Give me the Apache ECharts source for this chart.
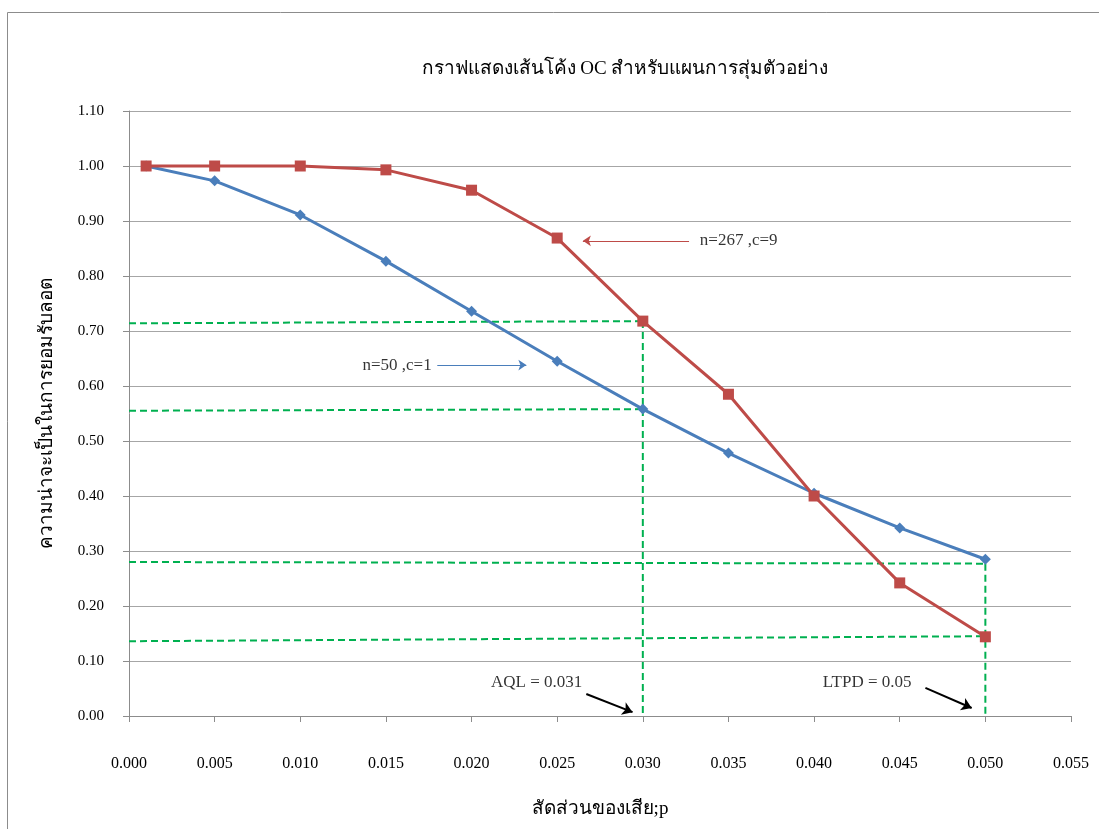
<!DOCTYPE html>
<html><head><meta charset="utf-8">
<script src="https://cdn.jsdelivr.net/npm/echarts@6/dist/echarts.min.js"></script>
<style>html,body{margin:0;padding:0;background:#fff}#c{width:1099px;height:829px}</style>
</head><body><div id="c"></div>
<script>
const pValues = [0.001,0.005,0.010,0.015,0.020,0.025,0.030,0.035,0.040,0.045,0.050];
const planA = [1.000,0.973,0.911,0.827,0.736,0.645,0.558,0.478,0.405,0.342,0.285]; // n=50, c=1
const planB = [1.000,1.000,1.000,0.993,0.956,0.869,0.718,0.585,0.400,0.242,0.144]; // n=267, c=9
const guideLines = [
  [[0,0.714],[0.030,0.718]],
  [[0,0.555],[0.030,0.558]],
  [[0.030,0.718],[0.030,0]],
  [[0,0.280],[0.050,0.277]],
  [[0,0.136],[0.050,0.145]],
  [[0.050,0.277],[0.050,0]]
];
const arrowsRed = [[[0.0327,0.864],[0.0265,0.864]]];
const arrowsBlue = [[[0.0180,0.638],[0.0232,0.638]]];
const arrowsBlack = [[[0.0267,0.040],[0.0294,0.007]],[[0.0465,0.051],[0.0492,0.0145]]];
const labelsText = [
  {text:'n=267 ,c=9', x:0.0333, y:0.864, pos:'right'},
  {text:'n=50 ,c=1', x:0.0177, y:0.638, pos:'left'},
  {text:'AQL = 0.031', x:0.0238, y:0.061, pos:'inside'},
  {text:'LTPD = 0.05', x:0.0431, y:0.061, pos:'inside'}
];
const titleText = 'กราฟแสดงเส้นโค้ง OC สำหรับแผนการสุ่มตัวอย่าง';
const xName = 'สัดส่วนของเสีย;p';
const yName = 'ความน่าจะเป็นในการยอมรับลอต';

const FONT = "'Liberation Serif','Times New Roman',serif";
const chart = echarts.init(document.getElementById('c'));
const series = [];
guideLines.forEach(g => series.push({
  type:'line', data:g, symbol:'none', silent:true, z:1,
  lineStyle:{color:'#00b050', width:2, type:[7,4]}
}));
series.push({
  name:'n=50,c=1', type:'line', data:pValues.map((p,i)=>[p,planA[i]]),
  symbol:'diamond', symbolSize:11, z:3,
  lineStyle:{color:'#4a7ebb', width:3}, itemStyle:{color:'#4a7ebb'}
});
series.push({
  name:'n=267,c=9', type:'line', data:pValues.map((p,i)=>[p,planB[i]]),
  symbol:'rect', symbolSize:11, z:4,
  lineStyle:{color:'#be4b48', width:3}, itemStyle:{color:'#be4b48'}
});
function arrowSeries(list,color,width,size){
  return {type:'lines', coordinateSystem:'cartesian2d', silent:true, z:5,
    symbol:['none','arrow'], symbolSize:size,
    lineStyle:{color:color,width:width,opacity:1},
    itemStyle:{color:color},
    data:list.map(a=>({coords:[a[0],a[1]]}))};
}
series.push(arrowSeries(arrowsRed,'#be4b48',1,8));
series.push(arrowSeries(arrowsBlue,'#4a7ebb',1,8));
series.push(arrowSeries(arrowsBlack,'#000',2,10));
series.push({type:'scatter', data:labelsText.map(l=>({value:[l.x,l.y],
  label:{show:true, formatter:l.text, position:l.pos, distance:0}})),
  symbolSize:1, itemStyle:{color:'rgba(255,255,255,0)'}, silent:true, z:6,
  label:{fontFamily:FONT, fontSize:17, color:'#000', textBorderWidth:0}});

chart.setOption({
  animation:false,
  backgroundColor:'#fff',
  title:{text:titleText, left:620, top:55, textAlign:'center',
    textStyle:{fontFamily:FONT, fontSize:19, fontWeight:'normal', color:'#000'}},
  graphic:[{type:'rect', shape:{x:7.5,y:12.5,width:1200,height:900}, style:{fill:'none',stroke:'#8c8c8c',lineWidth:1}, silent:true}],
  grid:{left:129, right:28, top:111, bottom:113, containLabel:false},
  xAxis:{type:'value', min:0, max:0.055, interval:0.005,
    name:xName, nameLocation:'middle', nameGap:84,
    nameTextStyle:{fontFamily:FONT, fontSize:19, color:'#000'},
    axisLine:{show:true, lineStyle:{color:'#8c8c8c'}},
    axisTick:{show:true, length:6, lineStyle:{color:'#8c8c8c'}},
    splitLine:{show:false},
    axisLabel:{margin:40, fontFamily:FONT, fontSize:16, color:'#000', formatter:v=>v.toFixed(3)}},
  yAxis:{type:'value', min:0, max:1.1, interval:0.1,
    name:yName, nameLocation:'middle', nameGap:72, nameRotate:90,
    nameTextStyle:{fontFamily:FONT, fontSize:19, color:'#000'},
    axisLine:{show:true, lineStyle:{color:'#8c8c8c'}},
    axisTick:{show:true, length:6, lineStyle:{color:'#8c8c8c'}},
    splitLine:{show:true, lineStyle:{color:'#a6a6a6', width:1}},
    axisLabel:{margin:25, fontFamily:FONT, fontSize:15, color:'#000', formatter:v=>v.toFixed(2)}},
  series:series
});
</script></body></html>
